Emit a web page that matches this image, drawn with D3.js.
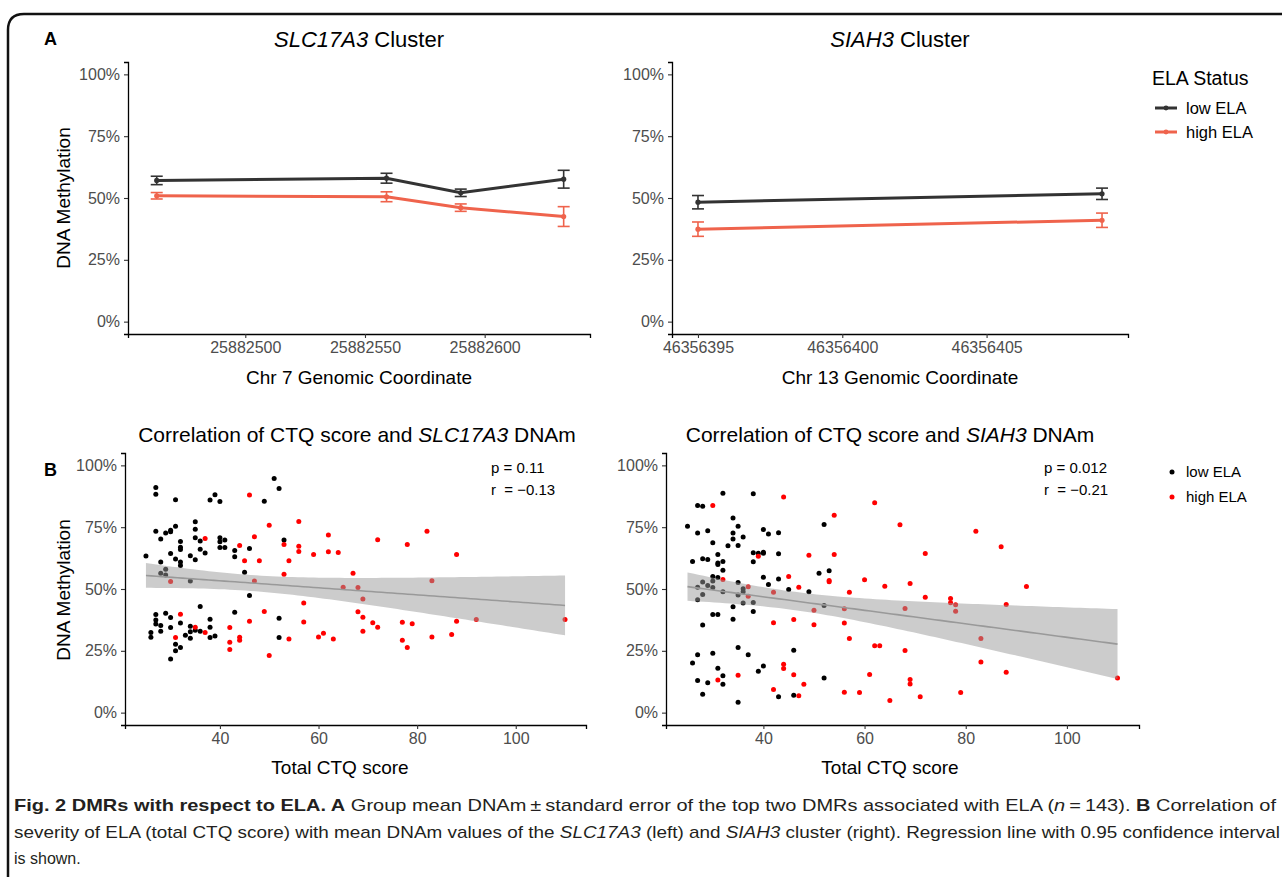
<!DOCTYPE html>
<html>
<head>
<meta charset="utf-8">
<script src="https://cdn.jsdelivr.net/npm/d3@7"></script>
<style>
body { margin: 0; background: #fff; }
svg text { font-family: "Liberation Sans", Arial, sans-serif; white-space: pre; }
</style>
</head>
<body>
<div id="chart"></div>
<script>
// ---- panel A data (group mean DNAm +- SE, percent) ----
var slcPos = [25882463, 25882559, 25882590, 25882633];
var slcLowMean = [57.1, 58.0, 52.1, 57.6];
var slcLowSE = [1.7, 2.0, 1.5, 3.6];
var slcHighMean = [50.9, 50.5, 46.1, 42.5];
var slcHighSE = [1.3, 2.0, 1.5, 4.0];

var siahPos = [46356395, 46356409];
var siahLowMean = [48.3, 51.7];
var siahLowSE = [2.7, 2.3];
var siahHighMean = [37.4, 41.0];
var siahHighSE = [2.9, 2.9];

var slcTicks = [25882500, 25882550, 25882600];
var siahTicks = [46356395, 46356400, 46356405];
var pctTicks = [0, 25, 50, 75, 100];
var ctqTicks = [40, 60, 80, 100];

// ---- panel B data: [total CTQ score, DNAm %] ----
var slcLow = [[25,63.3],[27,91.0],[27,88.3],[31,86.1],[38,86.0],[39,88.1],[40,85.4],[51,94.7],[52,90.6],[49,85.5],
  [27,73.4],[28,70.2],[29,72.6],[30,73.2],[30,73.8],[31,75.4],[35,77.2],[35,74.2],[35,70.7],[36,69.4],
  [32,69.2],[32,66.9],[32,66.0],[30,64.4],[28,60.9],[31,62.1],[32,60.9],[32,59.5],[34,63.4],[35,61.8],
  [36,66.1],[37,64.6],[40,70.7],[40,69.1],[40,66.8],[41,69.8],[41,66.8],[43,65.6],[43,63.0],[46,66.4],
  [53,69.8],[28,56.4],[29,58.0],[29,55.7],[34,53.2],[45,56.8],[46,47.4],[36,42.9],[27,39.7],[27,37.5],
  [27,35.8],[28,35.2],[28,32.9],[29,40.2],[30,38.5],[30,34.4],[26,32.4],[26,30.5],[31,27.7],[31,25.0],
  [32,26.3],[30,21.7],[32,36.2],[33,31.3],[34,34.9],[34,32.7],[34,30.1],[35,33.3],[36,32.9],[38,37.8],
  [38,34.5],[38,30.4],[39,31.0],[43,40.6],[52,38.2],[52,30.4]];
var slcHigh = [[46,88.0],[50,75.8],[56,77.3],[62,71.8],[37,70.4],[44,67.6],[47,71.1],[53,68.0],[56,67.3],[56,65.2],
  [59,64.0],[62,65.1],[45,61.4],[48,61.4],[54,61.4],[53,56.0],[30,53.0],[47,53.2],[57,44.3],[49,40.9],
  [46,37.0],[57,36.7],[32,39.8],[31,30.4],[35,34.5],[37,32.4],[42,34.4],[42,28.5],[42,25.5],[44,30.5],
  [44,29.3],[50,23.1],[54,29.8],[60,30.6],[61,32.1],[63,29.8],
  [64,64.8],[72,69.9],[78,68.0],[82,73.4],[88,64.0],[67,56.4],[65,50.7],[68,50.6],[69,46.0],[83,53.3],
  [68,40.8],[69,38.6],[71,36.4],[72,34.5],[69,32.9],[77,36.6],[79,35.9],[77,29.3],[78,26.3],[83,30.6],
  [87,31.6],[88,37.0],[92,37.7],[110,37.7]];
var siahLow = [[25,75.4],[27,83.8],[28,83.5],[32,88.7],[38,88.5],[27,72.6],[29,73.6],[30,68.7],[34,78.7],[35,75.4],
  [34,72.6],[36,71.0],[34,70.2],[33,67.5],[35,67.6],[40,74.1],[41,72.2],[43,72.7],[52,76.1],[38,64.7],
  [39,64.5],[40,64.9],[40,64.5],[43,64.3],[38,61.0],[26,61.1],[28,62.2],[29,61.9],[31,64.0],[31,60.5],
  [31,59.9],[32,61.1],[32,57.6],[30,55.1],[31,54.7],[40,54.8],[43,54.0],[51,56.4],[53,57.4],[41,51.8],
  [45,49.8],[49,48.9],[28,52.8],[29,51.4],[30,53.2],[30,50.6],[27,50.7],[27,45.7],[28,47.8],[32,48.9],
  [35,52.6],[35,47.6],[36,50.1],[36,48.9],[36,44.3],[38,44.5],[38,40.9],[34,42.8],[34,37.8],[30,39.7],
  [31,39.7],[28,35.4],[52,43.3],[35,26.3],[37,23.4],[27,23.4],[26,20.1],[30,24.0],[31,17.9],[40,18.9],
  [39,16.7],[46,25.2],[32,14.9],[32,11.5],[27,13.0],[29,12.1],[28,7.4],[35,4.2],[43,6.4],[46,7.0],
  [52,14.0]];
var siahHigh = [[30,83.8],[44,87.2],[54,79.8],[62,84.9],[39,63.2],[49,63.6],[54,64.0],[32,53.8],[45,55.1],[53,53.4],
  [53,52.9],[60,53.7],[37,50.9],[37,47.1],[42,48.7],[47,50.7],[57,48.7],[50,41.4],[56,42.0],[42,36.4],
  [46,37.7],[50,35.5],[56,36.2],[57,30.0],[62,27.0],[63,27.0],[44,19.6],[44,17.8],[46,15.3],[48,11.5],
  [35,15.1],[31,13.2],[42,9.4],[47,6.8],[56,8.2],[59,8.1],[61,15.4],
  [67,76.0],[82,73.4],[87,67.1],[72,64.4],[64,51.1],[69,52.2],[92,51.0],[72,46.7],[77,46.2],
  [77,44.4],[78,43.6],[78,41.0],[88,43.7],[68,42.1],[68,25.1],[83,30.0],[83,20.5],[88,16.3],[69,13.4],
  [69,11.6],[65,4.9],[71,6.4],[79,8.1],[110,14.0]];

var pVals = ['0.11', '0.012'];
var rVals = ['\u22120.13', '\u22120.21'];
var groups = ['low ELA', 'high ELA'];

var lineCols = ['#333333', '#EF634C'];
var dotCols = ['#000000', '#FF0000'];

var svg = d3.select('#chart').append('svg')
    .attr('width', 1282)
    .attr('height', 877);

// figure frame (rounded corner, cut at page edge)
svg.append('path')
    .attr('d', 'M8,880 V30 Q8,14 24,14 H1290')
    .attr('fill', 'none')
    .attr('stroke', '#111')
    .attr('stroke-width', 2.5);

function styleAxis (g) {
    g.select('.domain').attr('stroke', '#000').attr('stroke-width', 1.3);
    g.selectAll('.tick line').attr('stroke', '#333').attr('stroke-width', 1.1);
    g.selectAll('.tick text').attr('fill', '#4D4D4D').attr('font-size', 16)
        .attr('font-family', '"Liberation Sans", Arial, sans-serif');
}

function addText (x, y, txt, size, opts) {
    opts = opts || {};
    var t = svg.append('text')
        .attr('x', x).attr('y', y)
        .attr('font-size', size)
        .attr('fill', opts.fill || '#000')
        .attr('text-anchor', opts.anchor || 'start');
    if (opts.weight) t.attr('font-weight', opts.weight);
    if (opts.rotate) t.attr('transform', 'rotate(-90 ' + x + ' ' + y + ')');
    if (opts.family) t.attr('font-family', opts.family);
    t.text(txt);
    return t;
}

function italicTitle (x, y, gene, pre, post, size) {
    var t = svg.append('text').attr('x', x).attr('y', y)
        .attr('font-size', size).attr('text-anchor', 'middle');
    t.append('tspan').text(pre);
    t.append('tspan').attr('font-style', 'italic').text(gene);
    t.append('tspan').text(post);
}

// ---------- panel A ----------
function linePanel (pos, lowM, lowS, highM, highS, ticks, xDom, x0, x1) {
    var x = d3.scaleLinear().domain(xDom).range([x0, x1]);
    var y = d3.scaleLinear().domain([-5, 105]).range([334, 62]);

    svg.append('g').attr('transform', 'translate(0,334)')
        .call(d3.axisBottom(x).tickValues(ticks).tickFormat(d3.format('d'))
            .tickSizeOuter(0).tickSize(4).tickPadding(4))
        .call(styleAxis);
    svg.append('g').attr('transform', 'translate(' + x0 + ',0)')
        .call(d3.axisLeft(y).tickValues(pctTicks).tickFormat(function (d) { return d + '%'; })
            .tickSizeOuter(0).tickSize(4).tickPadding(4))
        .call(styleAxis);

    var series = [[lowM, lowS], [highM, highS]];
    series.forEach(function (s, k) {
        var pts = pos.map(function (p, i) { return {x: p, m: s[0][i], se: s[1][i]}; });
        var g = svg.append('g');
        g.append('path').datum(pts)
            .attr('d', d3.line().x(function (d) { return x(d.x); }).y(function (d) { return y(d.m); }))
            .attr('fill', 'none').attr('stroke', lineCols[k]).attr('stroke-width', 3);
        var eb = g.selectAll('.eb').data(pts).enter().append('g');
        eb.append('line')
            .attr('x1', function (d) { return x(d.x); }).attr('x2', function (d) { return x(d.x); })
            .attr('y1', function (d) { return y(d.m - d.se); }).attr('y2', function (d) { return y(d.m + d.se); })
            .attr('stroke', lineCols[k]).attr('stroke-width', 1.6);
        [-1, 1].forEach(function (sg) {
            eb.append('line')
                .attr('x1', function (d) { return x(d.x) - 6; }).attr('x2', function (d) { return x(d.x) + 6; })
                .attr('y1', function (d) { return y(d.m + sg * d.se); }).attr('y2', function (d) { return y(d.m + sg * d.se); })
                .attr('stroke', lineCols[k]).attr('stroke-width', 1.6);
        });
        eb.append('circle')
            .attr('cx', function (d) { return x(d.x); }).attr('cy', function (d) { return y(d.m); })
            .attr('r', 2.6).attr('fill', lineCols[k]);
    });
}

linePanel(slcPos, slcLowMean, slcLowSE, slcHighMean, slcHighSE, slcTicks,
    [25882451, 25882644], 128, 590);
linePanel(siahPos, siahLowMean, siahLowSE, siahHighMean, siahHighSE, siahTicks,
    [46356394.1, 46356409.9], 672, 1128);

addText(44, 45, 'A', 18, {weight: 'bold'});
italicTitle(359, 47, 'SLC17A3', '', ' Cluster', 22);
italicTitle(900, 47, 'SIAH3', '', ' Cluster', 22);
addText(359, 384, 'Chr 7 Genomic Coordinate', 19, {anchor: 'middle'});
addText(900, 384, 'Chr 13 Genomic Coordinate', 19, {anchor: 'middle'});
addText(70, 198, 'DNA Methylation', 19, {anchor: 'middle', rotate: true});

// legend A
addText(1152, 85, 'ELA Status', 19.5);
groups.forEach(function (gname, k) {
    var yy = 108 + k * 24;
    svg.append('line').attr('x1', 1155).attr('x2', 1177).attr('y1', yy).attr('y2', yy)
        .attr('stroke', lineCols[k]).attr('stroke-width', 3);
    svg.append('circle').attr('cx', 1166).attr('cy', yy).attr('r', 2.4).attr('fill', lineCols[k]);
    addText(1186, yy + 6, gname, 16.5);
});

// ---------- panel B ----------
var ctqAll = slcLow.concat(slcHigh).map(function (d) { return d[0]; });
var ctqExt = d3.extent(ctqAll);
var ctqPad = (ctqExt[1] - ctqExt[0]) * 0.05;
var ctqDom = [ctqExt[0] - ctqPad, ctqExt[1] + ctqPad];

function fitLM (pts) {
    var n = pts.length;
    var mx = d3.mean(pts, function (d) { return d[0]; });
    var my = d3.mean(pts, function (d) { return d[1]; });
    var sxx = d3.sum(pts, function (d) { return (d[0] - mx) * (d[0] - mx); });
    var sxy = d3.sum(pts, function (d) { return (d[0] - mx) * (d[1] - my); });
    var b = sxy / sxx, a = my - b * mx;
    var sse = d3.sum(pts, function (d) { var r = d[1] - (a + b * d[0]); return r * r; });
    var s = Math.sqrt(sse / (n - 2));
    var tq = 1.977;
    var ext = d3.extent(pts, function (d) { return d[0]; });
    return d3.range(0, 81).map(function (i) {
        var xv = ext[0] + (ext[1] - ext[0]) * i / 80;
        var fy = a + b * xv;
        var se = s * Math.sqrt(1 / n + (xv - mx) * (xv - mx) / sxx);
        return {x: xv, y: fy, lo: fy - tq * se, hi: fy + tq * se};
    });
}

function scatterPanel (low, high, x0, x1, idx) {
    var x = d3.scaleLinear().domain(ctqDom).range([x0, x1]);
    var y = d3.scaleLinear().domain([-5, 105]).range([725, 453]);

    svg.append('g').attr('transform', 'translate(0,725)')
        .call(d3.axisBottom(x).tickValues(ctqTicks).tickSizeOuter(0).tickSize(4).tickPadding(4))
        .call(styleAxis);
    svg.append('g').attr('transform', 'translate(' + x0 + ',0)')
        .call(d3.axisLeft(y).tickValues(pctTicks).tickFormat(function (d) { return d + '%'; })
            .tickSizeOuter(0).tickSize(4).tickPadding(4))
        .call(styleAxis);

    [low, high].forEach(function (pts, k) {
        svg.append('g').selectAll('circle').data(pts).enter().append('circle')
            .attr('cx', function (d) { return x(d[0]); })
            .attr('cy', function (d) { return y(d[1]); })
            .attr('r', 2.5)
            .attr('fill', dotCols[k]);
    });

    var fit = fitLM(low.concat(high));
    svg.append('path').datum(fit)
        .attr('d', d3.area().x(function (d) { return x(d.x); })
            .y0(function (d) { return y(d.lo); }).y1(function (d) { return y(d.hi); }))
        .attr('fill', '#999999').attr('fill-opacity', 0.5);
    svg.append('path').datum(fit)
        .attr('d', d3.line().x(function (d) { return x(d.x); }).y(function (d) { return y(d.y); }))
        .attr('fill', 'none').attr('stroke', '#999999').attr('stroke-width', 1.6);

    var sx = x1 - 95;
    addText(sx, 473, 'p = ' + pVals[idx], 15);
    addText(sx, 495, 'r  = ' + rVals[idx], 15);
}

scatterPanel(slcLow, slcHigh, 125, 586, 0);
scatterPanel(siahLow, siahHigh, 666, 1139, 1);

addText(44, 476, 'B', 18, {weight: 'bold'});
italicTitle(357, 442, 'SLC17A3', 'Correlation of CTQ score and ', ' DNAm', 21);
italicTitle(890, 442, 'SIAH3', 'Correlation of CTQ score and ', ' DNAm', 21);
addText(340, 774, 'Total CTQ score', 19, {anchor: 'middle'});
addText(890, 774, 'Total CTQ score', 19, {anchor: 'middle'});
addText(70, 590, 'DNA Methylation', 19, {anchor: 'middle', rotate: true});

// legend B
groups.forEach(function (gname, k) {
    var yy = 472 + k * 25;
    svg.append('circle').attr('cx', 1172).attr('cy', yy).attr('r', 2.5).attr('fill', dotCols[k]);
    addText(1186, yy + 5, gname, 15, {family: '"Open Sans", sans-serif'});
});

// ---------- caption ----------
var capFont = '"Liberation Sans Narrow", "DejaVu Sans Condensed", "Roboto Condensed", "Liberation Sans", sans-serif';
var capLines = [
    {y: 811, len: 1262, parts: [['Fig. 2 DMRs with respect to ELA. A', 'b'], [' Group mean DNAm\u2009\u00b1\u2009standard error of the top two DMRs associated with ELA (', ''],
        ['n', 'i'], ['\u2009=\u2009143). ', ''], ['B', 'b'], [' Correlation of', '']]},
    {y: 838, len: 1266, parts: [['severity of ELA (total CTQ score) with mean DNAm values of the ', ''], ['SLC17A3', 'i'],
        [' (left) and ', ''], ['SIAH3', 'i'], [' cluster (right). Regression line with 0.95 confidence interval', '']]},
    {y: 864, len: 0, parts: [['is shown.', '']]}
];
capLines.forEach(function (ln) {
    var t = svg.append('text').attr('x', 14).attr('y', ln.y)
        .attr('font-size', ln.len ? 17 : 16).attr('fill', '#231F20')
        .attr('font-family', capFont);
    if (ln.len) t.attr('textLength', ln.len).attr('lengthAdjust', 'spacingAndGlyphs');
    ln.parts.forEach(function (p) {
        var ts = t.append('tspan').text(p[0]);
        if (p[1] === 'b') ts.attr('font-weight', 'bold');
        if (p[1] === 'i') ts.attr('font-style', 'italic');
    });
});
</script>
</body>
</html>
